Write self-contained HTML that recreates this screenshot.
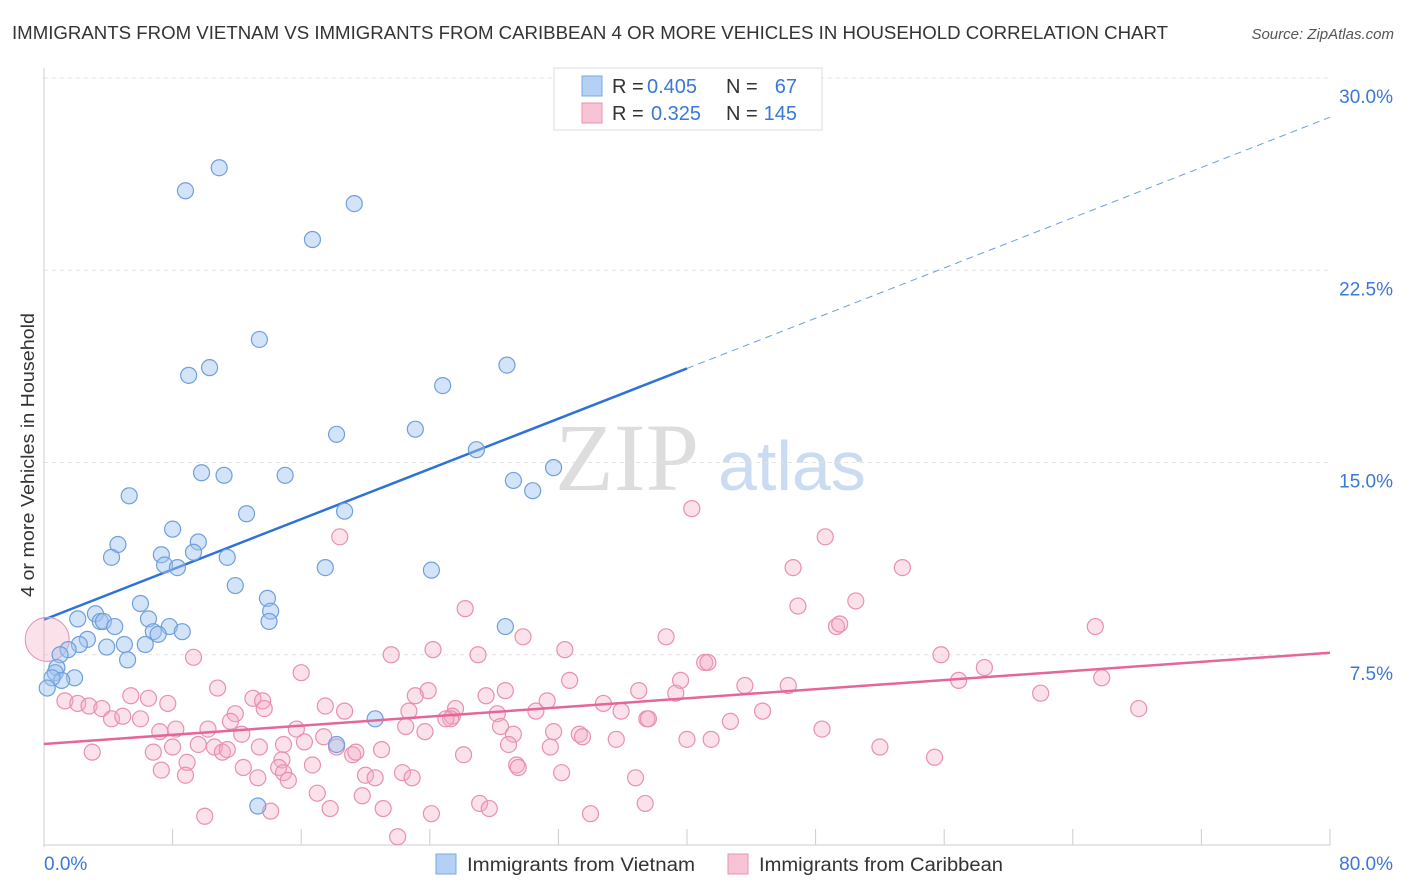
<!DOCTYPE html>
<html><head><meta charset="utf-8"><style>
body{margin:0;background:#fff;font-family:"Liberation Sans",sans-serif}
svg{display:block}
</style></head><body>
<svg width="1406" height="892" viewBox="0 0 1406 892" xmlns="http://www.w3.org/2000/svg" id="chart">
<text x="12" y="39" font-size="18" fill="#333" textLength="1156" lengthAdjust="spacingAndGlyphs">IMMIGRANTS FROM VIETNAM VS IMMIGRANTS FROM CARIBBEAN 4 OR MORE VEHICLES IN HOUSEHOLD CORRELATION CHART</text>
<text x="1394" y="39" font-size="15" fill="#555" font-style="italic" text-anchor="end">Source: ZipAtlas.com</text>
<g>
<text x="555" y="490" font-size="96" font-family="Liberation Serif,serif" fill="#ddd">ZIP</text>
<text x="718" y="490" font-size="70" fill="#c9dcf2">atlas</text>
</g>
<g id="grid"></g>
<g id="axes"></g>
<g id="lines"></g>
<g id="pts"></g>
<text x="34" y="455" font-size="18" fill="#333" text-anchor="middle" textLength="284" lengthAdjust="spacingAndGlyphs" transform="rotate(-90 34 455)">4 or more Vehicles in Household</text>
<g>
<rect x="554" y="68" width="268" height="62" fill="#fff" stroke="#ddd"/>
<rect x="582" y="76" width="20" height="20" fill="#b4d0f4" stroke="#7aaae0"/>
<rect x="582" y="103" width="20" height="20" fill="#f8c4d4" stroke="#e890b0"/>
<text x="612" y="93" font-size="20" fill="#333">R =</text><text x="647" y="93" font-size="20" fill="#3a78d8">0.405</text>
<text x="726" y="93" font-size="20" fill="#333">N =</text><text x="797" y="93" font-size="20" fill="#3a78d8" text-anchor="end">67</text>
<text x="612" y="120" font-size="20" fill="#333">R =</text><text x="651" y="120" font-size="20" fill="#3a78d8">0.325</text>
<text x="726" y="120" font-size="20" fill="#333">N =</text><text x="797" y="120" font-size="20" fill="#3a78d8" text-anchor="end">145</text>
</g>
<g>
<rect x="436" y="854" width="20" height="20" fill="#b4d0f4" stroke="#7aaae0"/>
<text x="467" y="871" font-size="19" fill="#333" textLength="228" lengthAdjust="spacingAndGlyphs">Immigrants from Vietnam</text>
<rect x="728" y="854" width="20" height="20" fill="#f8c4d4" stroke="#e890b0"/>
<text x="759" y="871" font-size="19" fill="#333" textLength="244" lengthAdjust="spacingAndGlyphs">Immigrants from Caribbean</text>
</g>
</svg>
<script>
const yTicks=[7.5,15,22.5,30];
const yTickLabels=["7.5%","15.0%","22.5%","30.0%"];
const xTickCount=10;
const xMin=0,xMax=80,yMin=0,yMax=30;
const blueX=[10.9,8.8,19.3,16.7,13.4,10.3,9.0,28.8,24.8,23.1,18.2,26.9,9.8,11.2,15.0,29.2,30.4,31.7,5.3,12.6,18.7,8.0,4.6,4.2,7.3,9.6,9.3,7.5,8.3,11.4,17.5,24.1,11.9,13.9,6.0,3.2,2.1,3.5,3.7,4.4,6.5,7.8,8.6,14.1,14.0,28.7,6.8,7.1,2.7,2.2,1.5,3.9,5.0,6.3,5.2,1.0,0.8,0.7,1.9,1.1,0.5,0.2,20.6,18.2,13.3];
const blueY=[26.5,25.6,25.1,23.7,19.8,18.7,18.4,18.8,18.0,16.3,16.1,15.5,14.6,14.5,14.5,14.3,13.9,14.8,13.7,13.0,13.1,12.4,11.8,11.3,11.4,11.9,11.5,11.0,10.9,11.3,10.9,10.8,10.2,9.7,9.5,9.1,8.9,8.8,8.8,8.6,8.9,8.6,8.4,9.2,8.8,8.6,8.4,8.3,8.1,7.9,7.7,7.8,7.9,7.9,7.3,7.5,7.0,6.8,6.6,6.5,6.6,6.2,5.0,4.0,1.6];
const pinkX=[40.3,48.6,18.4,46.6,53.4,26.2,46.9,50.5,49.3,49.5,65.4,29.8,38.7,9.3,21.6,24.2,27.0,32.4,41.1,41.3,55.8,16.0,58.5,32.7,39.6,56.9,65.8,10.8,23.9,23.1,28.7,37.0,39.3,43.6,46.3,62.0,5.4,6.5,13.0,13.6,31.3,34.8,27.5,25.6,25.4,25.3,25.0,1.3,2.1,2.8,3.6,7.7,11.9,13.7,17.5,18.7,22.7,28.2,30.6,35.9,37.5,44.7,68.1,4.2,4.9,6.0,11.6,15.7,22.5,28.4,31.7,37.6,42.7,48.4,7.2,8.2,10.2,12.3,16.2,17.4,23.7,29.2,33.3,33.5,35.6,40.0,41.5,52.0,3.0,6.8,8.0,9.6,10.6,11.1,11.4,13.4,14.9,18.2,19.2,21.0,28.9,31.5,14.8,14.6,16.7,19.4,26.1,55.4,8.9,7.3,12.4,14.9,22.3,29.4,29.5,32.2,36.8,8.8,20.0,20.6,22.9,13.3,15.2,17.0,19.8,27.1,27.7,37.4,10.0,14.1,17.8,21.1,24.1,34.0,22.0];
const pinkY=[13.2,12.1,12.1,10.9,10.9,9.3,9.4,9.6,8.6,8.7,8.6,8.2,8.2,7.4,7.5,7.7,7.5,7.7,7.2,7.2,7.5,6.8,7.0,6.5,6.5,6.5,6.6,6.2,6.1,5.9,6.1,6.1,6.0,6.3,6.3,6.0,5.9,5.8,5.8,5.7,5.7,5.6,5.9,5.4,5.1,5.0,5.0,5.7,5.6,5.5,5.4,5.6,5.2,5.4,5.5,5.3,5.3,5.2,5.3,5.3,5.0,5.3,5.4,5.0,5.1,5.0,4.9,4.6,4.7,4.7,4.5,5.0,4.9,4.6,4.5,4.6,4.6,4.4,4.1,4.3,4.5,4.4,4.4,4.3,4.2,4.2,4.2,3.9,3.7,3.7,3.9,4.0,3.9,3.7,3.8,3.9,4.0,3.9,3.6,3.8,4.0,3.9,3.4,3.1,3.2,3.7,3.6,3.5,3.3,3.0,3.1,2.9,2.9,3.2,3.1,2.9,2.7,2.8,2.8,2.7,2.7,2.7,2.6,2.1,2.0,1.7,1.5,1.7,1.2,1.4,1.5,1.5,1.3,1.3,0.4];
const blueTrend=[8.87,0.2450];
const blueSolidEnd=[40];
const pinkTrend=[4.02,0.0445];
const bigPink=[0.2,8.1];

const L=44,R=1330,T=78,B=847;
const sx=v=>L+(v-xMin)/(xMax-xMin)*(R-L);
const sy=v=>B-(v-yMin)/(yMax-yMin)*(B-T);
const NS="http://www.w3.org/2000/svg";
function mk(tag,parent,attrs){const e=document.createElementNS(NS,tag);for(const k in attrs)e.setAttribute(k,attrs[k]);document.getElementById(parent).appendChild(e);return e;}

yTicks.forEach((t,i)=>{
  const g=mk('line','grid',{x1:L,x2:R,y1:sy(t),y2:sy(t),stroke:'#e3e3e3','stroke-dasharray':'4 4'});
  
  
  const tx=mk('text','axes',{x:1393,y:sy(t)+25,'font-size':19,fill:'#3a78d8','text-anchor':'end'});
  tx.textContent=yTickLabels[i];
  
  
});
const ax=mk('line','axes',{x1:L,x2:L,y1:68,y2:B,stroke:'#ccc'});


const bx=mk('line','axes',{x1:L,x2:R,y1:B-2,y2:B-2,stroke:'#ccc'});


for(let i=1;i<=xTickCount;i++){
  const v=xMin+i*(xMax-xMin)/xTickCount;
  const tk=mk('line','axes',{x1:sx(v),x2:sx(v),y1:B-2,y2:B-18,stroke:'#ccc'});
  
  
}
const x0=mk('text','axes',{x:44,y:870,'font-size':19,fill:'#3a78d8'});x0.textContent='0.0%';


const x1=mk('text','axes',{x:1393,y:870,'font-size':19,fill:'#3a78d8','text-anchor':'end'});x1.textContent='80.0%';



const f=(tr,x)=>tr[0]+tr[1]*x;
const bl=mk('line','lines',{x1:sx(0),y1:sy(f(blueTrend,0)),x2:sx(blueSolidEnd[0]),y2:sy(f(blueTrend,blueSolidEnd[0])),stroke:'#2e72d8','stroke-width':2.5});


const bd=mk('line','lines',{x1:sx(blueSolidEnd[0]),y1:sy(f(blueTrend,blueSolidEnd[0])),x2:sx(80),y2:sy(f(blueTrend,80)),stroke:'#6a9ee0','stroke-width':1,'stroke-dasharray':'7 5'});



const big=mk('circle','pts',{cx:sx(bigPink[0]),cy:sy(bigPink[1]),r:22,fill:'rgba(244,170,195,0.35)',stroke:'#e890b0'});


pinkX.forEach((x,i)=>{
  const c=mk('circle','pts',{cx:sx(x),cy:sy(pinkY[i]),r:8,fill:'rgba(244,170,195,0.35)',stroke:'#e890b0','stroke-width':1.2});
  
  
});
blueX.forEach((x,i)=>{
  const c=mk('circle','pts',{cx:sx(x),cy:sy(blueY[i]),r:8,fill:'rgba(160,196,240,0.45)',stroke:'#6f9fdc','stroke-width':1.2});
  
  
});
const pl=mk('line','pts',{x1:sx(0),y1:sy(f(pinkTrend,0)),x2:sx(80),y2:sy(f(pinkTrend,80)),stroke:'#e4679a','stroke-width':2.5});


</script>
</body></html>
